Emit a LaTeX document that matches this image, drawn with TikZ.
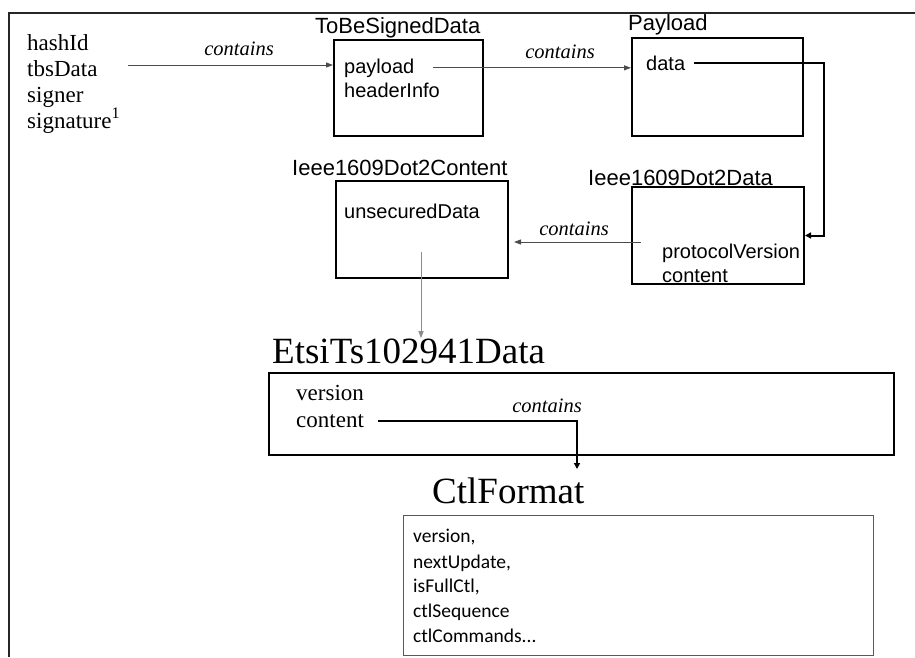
\documentclass[tikz,border=0pt]{standalone}
\usepackage{fontspec}
\setmainfont{Liberation Serif}
\setsansfont{Liberation Sans}
\newfontfamily\ctlfont{Carlito}
\usetikzlibrary{positioning,calc,arrows.meta}
\tikzset{
	box/.style={draw, line width=2pt, inner sep=0pt, anchor=north west},
	title/.style={font=\sffamily\fontsize{22}{26}\selectfont, inner sep=0pt, anchor=base west},
	bigtitle/.style={font=\fontsize{37}{40}\selectfont, inner sep=0pt, anchor=base west},
	field/.style={font=\sffamily\fontsize{20}{24}\selectfont, inner sep=0pt, anchor=base west},
	member/.style={font=\fontsize{23}{26}\selectfont, inner sep=0pt, anchor=base west},
	ctlfield/.style={font=\ctlfont\fontsize{19.5}{24}\selectfont, inner sep=0pt, anchor=base west},
	rel/.style={font=\itshape\fontsize{20.5}{24}\selectfont, inner sep=0pt, anchor=base},
	link/.style={draw=black!70, line width=1pt, -{Triangle[length=7pt,width=5pt]}},
	elbow/.style={draw=black, line width=2pt, -{Triangle[length=6pt,width=6pt]}},
}

\begin{document}
\begin{tikzpicture}[x=1pt,y=-1pt]
	\useasboundingbox (0,0) rectangle (915,657);
	% outer frame
	\draw[line width=2pt, black!85] (9,657) -- (9,13) -- (915,13);

	% signed data
	\node[member] (hashid) at (27,50) {hashId};
	\node[member] (tbsdata) at (27,76) {tbsData};
	\node[member] (signer) at (27,102) {signer};
	\node[member] (signature) at (27,128) {signature\textsuperscript{1}};

	% ToBeSignedData
	\node[title] (tbstitle) at (315,33) {ToBeSignedData};
	\node[box, minimum width=149, minimum height=96] (tbs) at (333,39) {};
	\node[field] (payload) at (344,73) {payload};
	\node[field] (headerinfo) at (344,97) {headerInfo};

	% Payload
	\node[title] (paytitle) at (628,30) {Payload};
	\node[box, minimum width=171, minimum height=98] (pay) at (631,37) {};
	\node[field] (data) at (646,70) {data};

	% Ieee1609Dot2Content
	\node[title] (idctitle) at (292,175) {Ieee1609Dot2Content};
	\node[box, minimum width=172, minimum height=97] (idc) at (335,180) {};
	\node[field] (unsecured) at (344,218) {unsecuredData};

	% Ieee1609Dot2Data
	\node[title] (iddtitle) at (588,185) {Ieee1609Dot2Data};
	\node[box, minimum width=172, minimum height=97] (idd) at (631,186) {};
	\node[field] (protocol) at (662,258) {protocolVersion};
	\node[field] (iddcontent) at (662,282) {content};

	% EtsiTs102941Data
	\node[bigtitle] (etsititle) at (272,363) {EtsiTs102941Data};
	\node[box, minimum width=625, minimum height=82] (etsi) at (268,372) {};
	\node[member] (version) at (296,400) {version};
	\node[member] (content) at (296,427) {content};

	% CtlFormat
	\node[bigtitle] (ctltitle) at (432,503) {CtlFormat};
	\node[box, draw=black!65, line width=1.2pt, minimum width=470, minimum height=140] (ctl) at (403,515) {};
	\node[ctlfield] (ctlversion) at (413,542) {version,};
	\node[ctlfield] (nextupdate) at (413,568) {nextUpdate,};
	\node[ctlfield] (isfullctl) at (413,592) {isFullCtl,};
	\node[ctlfield] (ctlsequence) at (413,617) {ctlSequence};
	\node[ctlfield] (ctlcommands) at (413,642) {ctlCommands...};

	% connectors
	\coordinate (a1) at (128,65);
	\draw[link] (a1) -- (a1 -| tbs.west);
	\node[rel] (rel1) at (239,55) {contains};

	\draw[link] ([xshift=19pt]payload.east) -- (payload.east -| pay.west);
	\node[rel] (rel2) at (560,58) {contains};

	\draw[elbow] ([xshift=9pt]data.east) -- ++(130,0) |- (idd.east);

	\coordinate (a3) at (641,242);
	\draw[link, shorten >=5pt] (a3) -- (a3 -| idc.east);
	\node[rel] (rel3) at (574,235) {contains};

	\coordinate (g1) at (421,252);
	\draw[draw=black!45, line width=1pt, -{Triangle[length=7pt,width=5pt]}] (g1) -- (g1 |- etsititle.north);

	\coordinate (a4) at (577,469);
	\draw[elbow] ([xshift=14pt]content.east) -| (a4);
	\node[rel] (rel4) at (547,412) {contains};
\end{tikzpicture}
\end{document}
